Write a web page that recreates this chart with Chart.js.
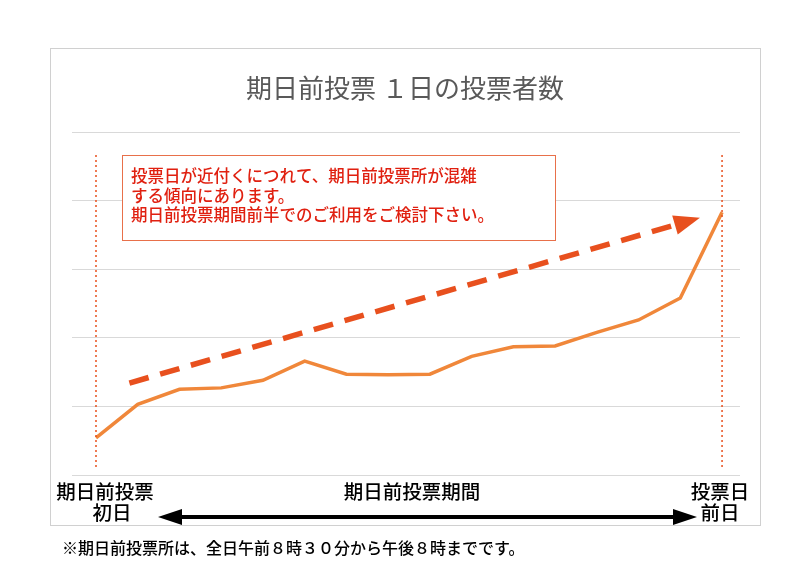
<!DOCTYPE html>
<html><head><meta charset="utf-8">
<script src="https://cdn.jsdelivr.net/npm/chart.js@4/dist/chart.umd.min.js"></script>
<style>body{margin:0;background:#fff}canvas{position:absolute;left:0;top:0}</style>
</head><body>
<canvas id="c" width="800" height="565"></canvas>
<script>
const days = ["1","2","3","4","5","6","7","8","9","10","11","12","13","14","15","16"];
const voters = [0.54,1.03,1.25,1.27,1.38,1.66,1.47,1.46,1.47,1.73,1.87,1.88,2.08,2.26,2.58,3.83];
const yTicks = [0,1,2,3,4,5];
const title = "期日前投票 １日の投票者数";
const noteLines = ["投票日が近付くにつれて、期日前投票所が混雑","する傾向にあります。","期日前投票期間前半でのご利用をご検討下さい。"];
const footnote = "※期日前投票所は、全日午前８時３０分から午後８時までです。";
const trendStart = {x:0.8, y:1.34}, trendEnd = {x:14.47, y:3.75};

const F = '"Noto Sans CJK JP", sans-serif';
const overlay = {
  id:'overlay',
  beforeDraw(ch){
    const c=ch.ctx; c.save();
    c.fillStyle='#fff'; c.fillRect(0,0,800,565);
    c.strokeStyle='#d0d0d0'; c.lineWidth=1; c.strokeRect(50.5,48.5,710,477);
    c.fillStyle='#595959'; c.font='26px '+F; c.textAlign='center'; c.textBaseline='middle';
    c.fillText(title,405,88);
    c.restore();
  },
  afterDatasetsDraw(ch){
    const c=ch.ctx, xs=ch.scales.x, ys=ch.scales.y; c.save();
    c.strokeStyle='#e8501e'; c.lineWidth=1.5; c.setLineDash([2,3]);
    [0,15].forEach(i=>{const x=xs.getPixelForValue(i); c.beginPath(); c.moveTo(x,155); c.lineTo(x,470); c.stroke();});
    const x1=xs.getPixelForValue(trendStart.x), y1=ys.getPixelForValue(trendStart.y);
    const x2=xs.getPixelForValue(trendEnd.x), y2=ys.getPixelForValue(trendEnd.y);
    const a=Math.atan2(y2-y1,x2-x1);
    c.setLineDash([20,12]); c.lineWidth=5.5; c.strokeStyle='#e8501e';
    c.beginPath(); c.moveTo(x1,y1); c.lineTo(x2-18*Math.cos(a),y2-18*Math.sin(a)); c.stroke();
    c.setLineDash([]); c.fillStyle='#e8501e'; c.beginPath();
    c.moveTo(x2,y2);
    c.lineTo(x2-26*Math.cos(a)+10*Math.sin(a), y2-26*Math.sin(a)-10*Math.cos(a));
    c.lineTo(x2-26*Math.cos(a)-10*Math.sin(a), y2-26*Math.sin(a)+10*Math.cos(a));
    c.closePath(); c.fill();
    c.fillStyle='#fff'; c.fillRect(122,155,433,85);
    c.strokeStyle='#e8704a'; c.lineWidth=1; c.strokeRect(122.5,155.5,433,85);
    c.fillStyle='#e02010'; c.font='500 16.5px '+F; c.textAlign='left'; c.textBaseline='middle';
    noteLines.forEach((t,i)=>c.fillText(t,131,176+i*19.5));
    c.fillStyle='#000'; c.font='500 19.5px '+F; c.textAlign='center';
    c.fillText('期日前投票',105,492); c.fillText('初日',112,513);
    c.fillText('期日前投票期間',412,492);
    c.fillText('投票日',720,492); c.fillText('前日',720,513);
    c.lineWidth=4; c.strokeStyle='#000'; c.beginPath(); c.moveTo(175,517); c.lineTo(680,517); c.stroke();
    c.beginPath(); c.moveTo(158,517); c.lineTo(182,509); c.lineTo(182,525); c.closePath(); c.fill();
    c.beginPath(); c.moveTo(697,517); c.lineTo(673,509); c.lineTo(673,525); c.closePath(); c.fill();
    c.font='500 16px '+F; c.textAlign='left'; c.fillText(footnote,62,548);
    c.restore();
  }
};
new Chart(document.getElementById('c'),{
  type:'line',
  data:{datasets:[{data:voters.map((v,i)=>({x:i,y:v})),borderColor:'#f0873a',borderWidth:3.5,pointRadius:0,tension:0}]},
  options:{responsive:false,animation:false,
    layout:{padding:{left:72,right:60,top:132,bottom:90}},
    plugins:{legend:{display:false},tooltip:{enabled:false}},
    scales:{
      x:{type:'linear',min:-0.575,max:15.43,display:false},
      y:{min:yTicks[0],max:yTicks[yTicks.length-1],afterBuildTicks:s=>{s.ticks=yTicks.map(v=>({value:v}));},
         ticks:{display:false},border:{display:false},grid:{color:'#d9d9d9',drawTicks:false}}
    }},
  plugins:[overlay]
});
</script></body></html>
